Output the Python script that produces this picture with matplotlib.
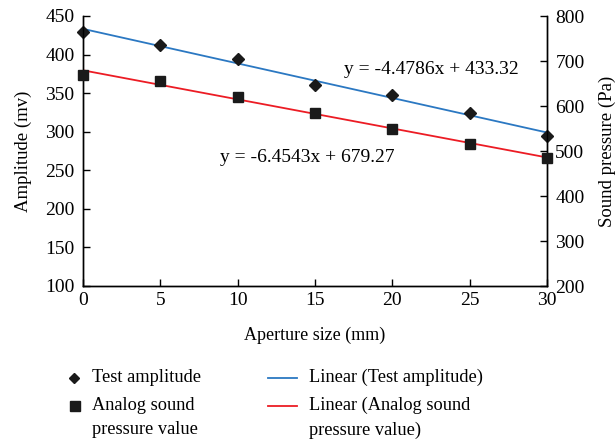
import numpy as np
import matplotlib.pyplot as plt
from matplotlib.lines import Line2D

plt.rcParams['font.family'] = ['Liberation Serif', 'DejaVu Serif']

# data
aperture = [0, 5, 10, 15, 20, 25, 30]
amplitude = [429, 413, 394, 360.5, 347, 324, 294]
pressure = [668, 656, 621, 584, 548, 516, 484]

# fitted lines as printed on the chart
amp_fit = (-4.4786, 433.32)
pre_fit = (-6.4543, 679.27)

blue = '#2b78c2'
red = '#ec1c24'
W, H = 616, 443

fig = plt.figure(figsize=(6.16, 4.43), dpi=100)
ax = fig.add_axes([83 / W, 1 - 286 / H, 464 / W, 270 / H])
ax2 = ax.twinx()

xf = np.array([0, 30])
ax.plot(xf, amp_fit[0] * xf + amp_fit[1], color=blue, lw=1.3)
ax.plot(aperture, amplitude, 'D', color='#1a1a1a', ms=6.3, ls='none', clip_on=False, zorder=5)
ax2.plot(xf, pre_fit[0] * xf + pre_fit[1], color=red, lw=1.3)
ax2.plot(aperture, pressure, 's', color='#1a1a1a', ms=7.5, ls='none', clip_on=False, zorder=5)

ax.set_xlim(0, 30)
ax.set_ylim(100, 450)
ax2.set_ylim(200, 800)
ax.set_xticks(range(0, 31, 5))
ax.set_yticks(range(100, 451, 50))
ax2.set_yticks(range(200, 801, 100))

for a in (ax, ax2):
    a.spines['top'].set_visible(False)
    a.tick_params(direction='in', length=5, width=1, labelsize=14, pad=6)
    for s in a.spines.values():
        s.set_linewidth(1)
ax.tick_params(axis='x', pad=4)

ax.set_xlabel('Aperture size (mm)', fontsize=13)
ax.xaxis.label.set_va('center')
ax.xaxis.set_label_coords(0.5, (286 - 335) / 270)
ax.set_ylabel('Amplitude (mv)', fontsize=13.5, va='center')
ax.yaxis.set_label_coords((23 - 83) / 464, 0.5)
ax2.set_ylabel('Sound pressure (Pa)', fontsize=13.5, va='center')
ax2.yaxis.set_label_coords((607 - 83) / 464, 0.5)

ax.text(22.53, 380, 'y = -4.4786x + 433.32', fontsize=14, va='center', ha='center')
ax.text(14.48, 267, 'y = -6.4543x + 679.27', fontsize=14, va='center', ha='center')


# legend drawn by hand so the markers line up with the first line of each label
def px(x, y):
    return x / W, 1 - y / H


fs = 13.2
fig.add_artist(Line2D([px(74, 0)[0]], [px(0, 378)[1]], marker='D', color='#1a1a1a', ms=5.5, ls='none'))
fig.add_artist(Line2D([px(75, 0)[0]], [px(0, 406)[1]], marker='s', color='#1a1a1a', ms=7, ls='none'))
fig.add_artist(Line2D([px(268, 0)[0], px(297, 0)[0]], [px(0, 378)[1]] * 2, color=blue, lw=1.3))
fig.add_artist(Line2D([px(268, 0)[0], px(297, 0)[0]], [px(0, 406)[1]] * 2, color=red, lw=1.3))
fig.text(*px(92, 377), 'Test amplitude', fontsize=fs, va='center', ha='left')
fig.text(*px(92, 405), 'Analog sound', fontsize=fs, va='center', ha='left')
fig.text(*px(92, 430), 'pressure value', fontsize=fs, va='center', ha='left')
fig.text(*px(309, 377), 'Linear (Test amplitude)', fontsize=fs, va='center', ha='left')
fig.text(*px(309, 405), 'Linear (Analog sound', fontsize=fs, va='center', ha='left')
fig.text(*px(309, 430), 'pressure value)', fontsize=fs, va='center', ha='left')

fig.savefig('out.png', dpi=100)
